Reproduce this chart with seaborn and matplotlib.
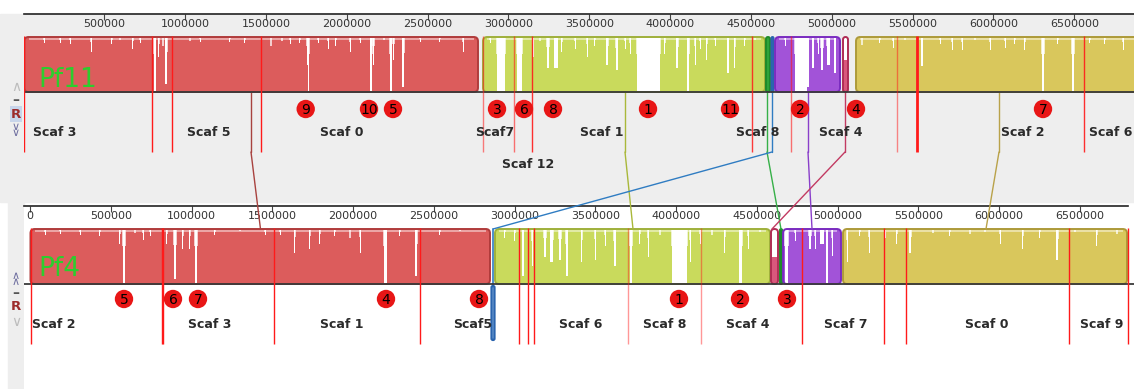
import numpy as np
import pandas as pd
import matplotlib
matplotlib.use("Agg")
import matplotlib.pyplot as plt
import matplotlib.colors as mcolors
from matplotlib.patches import FancyBboxPatch, Rectangle, ConnectionPatch
import seaborn as sns

sns.set_theme(style="white")
plt.rcParams['font.family'] = ['DejaVu Sans']

# ---------------- data (bp / kb) ----------------
pf11_ticks = [500000, 1000000, 1500000, 2000000, 2500000, 3000000, 3500000,
              4000000, 4500000, 5000000, 5500000, 6000000, 6500000]
pf4_ticks = [0] + pf11_ticks

# LCB order: red, lime, green, blue, purple, crimson, olive
lcb_fill = ['#dc5c5c', '#c9da5c', '#2fa43a', '#3c7cc8', '#a253d8', '#d9587c', '#d9c75c']
lcb_edge = ['#b03c3c', '#9fb03c', '#1f8a2a', '#2a64ae', '#7a2cc0', '#b02c55', '#ad9a3a']
link_color = ['#a8423f', '#a9b83a', '#36b048', '#2f7cc2', '#8a3fca', '#c23a62', '#b9a24a']

pf11_lcb_start = [5000, 2842500, 4593000, 4627000, 4648800, 5069400, 5149800]
pf11_lcb_end = [2811500, 4586900, 4617700, 4639500, 5050900, 5100300, 6950000]
pf4_lcb_start = [3000, 2878600, 4642900, 2857000, 4661400, 4587200, 5032900]
pf4_lcb_end = [2847600, 4580970, 4655300, 2875500, 5020500, 4630500, 6790970]
pf4_lcb_reverse = [False, False, False, True, False, False, False]

pf11_link = [1407300, 3720900, 4599300, 4630200, 4852900, 5081800, 6034400]
pf4_link = [1426900, 3732900, 4649100, 2866200, 4841000, 4593300, 5918100]

# contig boundaries
pf11_contig_bounds = [3100, 794900, 918600, 1469200, 2842500, 3034200, 3145600,
                      4506500, 4747800, 5403500, 5527200, 6560300]
pf11_contig_alpha = [1, 1, 1, 1, .55, .6, .9, .85, .6, .5, 1, .9]
pf11_contig_lw = [1, 1, 1, 1, 1, 1, 1, 1, 1, 1, 2, 1]
pf4_contig_bounds = [6200, 817100, 826400, 1510500, 2414300, 3027200, 3082900,
                     3120000, 3701900, 4153800, 4779100, 5286700, 5422900,
                     6431900, 6797200]
pf4_contig_alpha = [1, 1, 1, 1, 1, 1, 1, 1, .45, .45, 1, 1, 1, 1, 1]

pf11_contig_names = ['Scaf 3', 'Scaf 5', 'Scaf 0', 'Scaf7', 'Scaf 1', 'Scaf 8',
                     'Scaf 4', 'Scaf 2', 'Scaf 6', 'Scaf 12']
pf11_name_pos = [194900, 1147500, 1970200, 2916700, 3578600, 4543600, 5057100,
                 6182900, 6727300, 3120800]
pf11_name_row = [0, 0, 0, 0, 0, 0, 0, 0, 0, 1]
pf4_contig_names = ['Scaf 2', 'Scaf 3', 'Scaf 1', 'Scaf5', 'Scaf 6', 'Scaf 8',
                    'Scaf 4', 'Scaf 7', 'Scaf 0', 'Scaf 9']
pf4_name_pos = [148600, 1111200, 1928300, 2739300, 3407900, 3927900, 4444800,
                5048400, 5924300, 6633100]

# numbered markers
pf11_mark_id = [9, 10, 5, 3, 6, 8, 1, 11, 2, 4, 7]
pf11_mark_pos = [1745700, 2137300, 2285700, 2929100, 3096100, 3275500, 3863200,
                 4370400, 4803400, 5149800, 6306600]
pf4_mark_id = [5, 6, 7, 4, 8, 1, 2, 3]
pf4_mark_pos = [581900, 885200, 1040000, 2203800, 2779500, 4017600, 4395300, 4686200]

# similarity-profile gaps: centre (kb), width (kb), depth (fraction of block height)
pf11_gap_kb = [418, 677, 813, 838, 863, 882, 1030, 1531, 1599, 1754, 1763, 1884,
               2020, 2150, 2165, 2273, 2289, 2348, 2719,
               127, 226, 288, 547, 597, 721, 1092, 1277, 1370, 1649, 1710, 1822,
               1933, 2082, 2230, 2453, 2576,
               2954, 3068, 3152, 3245, 3294, 3331, 3486, 3610, 3671, 3866, 3968,
               4043, 4111, 4154, 4228, 4358, 4401,
               2886, 3195, 3412, 3535, 3721, 3752, 4185, 4278, 4463, 4525,
               4810, 4850, 4884, 4940, 4977, 5020, 4711, 4915,
               5085,
               5187, 5379, 5558, 5744, 5806, 5979, 6072, 6195, 6307, 6492, 6802,
               5298, 5453, 5670, 5886, 6133, 6399, 6597, 6690]
pf11_gap_w = [6, 6, 9, 6, 6, 9, 6, 6, 6, 6, 9, 6,
              6, 9, 6, 9, 6, 9, 6,
              6, 6, 6, 6, 6, 6, 6, 6, 6, 6, 6, 6,
              6, 6, 6, 6, 6,
              50, 31, 6, 12, 19, 6, 6, 9, 9, 142, 6,
              9, 9, 6, 6, 9, 6,
              6, 6, 6, 6, 6, 6, 6, 6, 6, 6,
              74, 12, 9, 12, 19, 9, 6, 6,
              31,
              6, 6, 9, 6, 6, 6, 6, 6, 12, 12, 6,
              6, 6, 6, 6, 6, 6, 6, 6]
pf11_gap_depth = [.25, .2, 1, .35, .5, .85, .2, .5, .2, .5, 1, .2,
                  .25, 1, .5, 1, .4, .9, .25,
                  .1, .1, .12, .12, .1, .1, .08, .08, .1, .12, .1, .1,
                  .15, .1, .12, .08, .08,
                  1, 1, .35, .55, .55, .25, .35, .5, .6, 1, .3,
                  .55, 1, .5, .4, .65, .55,
                  .1, .2, .2, .15, .2, .3, .2, .15, .15, .1,
                  1, .9, .55, .6, .5, .65, .15, .3,
                  .4,
                  .45, .18, .52, .22, .22, .22, .18, .22, 1, 1, .22,
                  .1, .1, .12, .1, .12, .12, .1, .12]

pf4_gap_kb = [557, 582, 650, 700, 848, 898, 947, 990, 1028, 1640, 1733, 1795,
              1981, 2043, 2198, 2390,
              93, 186, 310, 433, 743, 1145, 1300, 1455, 1548, 1888, 2290, 2538, 2662,
              3052, 3108, 3188, 3231, 3281, 3324, 3417, 3498, 3621, 3720, 3826,
              4021, 4086, 4302, 4401, 4445,
              2940, 3002, 3560, 3776, 3900, 4148, 4222, 4519,
              4609,
              4683, 4829, 4860, 4903, 4934, 4965, 4736,
              5058, 5194, 5367, 5448, 5590, 5819, 6005, 6147, 6358, 6605, 6729,
              5138, 5293, 5695, 5912, 6252, 6469]
pf4_gap_w = [6, 12, 6, 6, 6, 15, 6, 6, 12, 6, 6, 6,
             6, 6, 19, 9,
             6, 6, 6, 6, 6, 6, 6, 6, 6, 6, 6, 6, 6,
             9, 6, 12, 19, 12, 9, 6, 6, 9, 12, 6,
             93, 6, 6, 19, 6,
             6, 6, 6, 6, 6, 6, 6, 6,
             43,
             19, 12, 6, 19, 9, 6, 6,
             6, 6, 6, 9, 6, 6, 6, 6, 9, 6, 6,
             6, 6, 6, 6, 6, 6]
pf4_gap_depth = [.25, 1, .18, .18, .25, .9, .36, .36, 1, .42, .35, .25,
                 .48, .42, 1, .85,
                 .1, .08, .1, .12, .12, .1, .08, .1, .1, .12, .12, .1, .08,
                 .85, .66, .5, .6, .55, .85, .6, .55, .66, 1, .5,
                 1, .6, .42, 1, .36,
                 .15, .2, .3, .25, .3, .25, .3, .15,
                 .5,
                 1, .36, .36, .25, 1, .48, .2,
                 .6, .42, .25, .42, .18, .25, .25, .36, .55, .3, .25,
                 .12, .15, .12, .1, .15, .12]

# ---------------- layout ----------------
W, H = 1134, 389
BP_PER_PX = 6188
RADIUS_BP = 26000

TOP = dict(block=(37, 92), line_end=152, mark_y=109, name_y=(133, 164),
           label_x=90000, label_y=87)
BOT = dict(block=(229, 284), line_end=344, mark_y=299, name_y=(324, 355),
           label_x=50000, label_y=276, rev=(286, 340))


def fig_rect(x0, y0, x1, y1):
    return [x0 / W, 1 - y1 / H, (x1 - x0) / W, (y1 - y0) / H]


fig = plt.figure(figsize=(W / 100, H / 100), dpi=100)
fig.patches.append(Rectangle((0, 1 - 202 / H), 1, 188 / H, transform=fig.transFigure,
                             color='#eeeeee', zorder=-2))
fig.patches.append(Rectangle((8 / W, 0), 16 / W, 1 - 202 / H, transform=fig.transFigure,
                             color='#eeeeee', zorder=-2))

ax_top = fig.add_axes(fig_rect(24, 14, 1134, 202))
ax_bot = fig.add_axes(fig_rect(24, 206, 1134, 389))
ax_top.set_facecolor('#eeeeee')
ax_bot.set_facecolor('white')


def block_patch(ax, start, end, y0, y1, fc, ec, z, lw=1.4):
    w = end - start
    r = min(RADIUS_BP, w / 2)
    p = FancyBboxPatch((start, y0), w, y1 - y0,
                       boxstyle=f"round,pad=0,rounding_size={r}",
                       mutation_aspect=1 / BP_PER_PX, fc=fc, ec=ec, lw=lw, zorder=z)
    ax.add_patch(p)
    return p


def draw_track(ax, cfg, starts, ends, reverse, gap_kb, gap_w, gap_depth,
               bounds, b_alpha, b_lw, names, name_pos, name_row,
               mark_id, mark_pos, label):
    y0, y1 = cfg['block']
    for i in range(len(starts)):
        if reverse[i]:
            r0, r1 = cfg['rev']
            block_patch(ax, starts[i], ends[i], r0, r1, '#8fb6e0', lcb_edge[i], 3, 1.6)
            continue
        block_patch(ax, starts[i], ends[i], y0, y1, lcb_fill[i], 'none', 1, 0)
    # similarity profile gaps (spike + narrow shallow shoulder, thin fuzz at top)
    gx = np.array(gap_kb) * 1000
    gw = np.array(gap_w) * 1000
    gh = np.array(gap_depth) * (y1 - y0 - 1)
    ax.bar(gx, gh, width=gw, bottom=y0 + 1, color='white', lw=0, zorder=2)
    ax.bar(gx, gh * 0.3, width=gw + 9000, bottom=y0 + 1, color='white', lw=0,
           alpha=0.7, zorder=2)
    for i in range(len(starts)):
        if not reverse[i] and ends[i] - starts[i] > 4 * RADIUS_BP:
            ax.bar((starts[i] + ends[i]) / 2, 2.2, width=ends[i] - starts[i] - 2 * RADIUS_BP,
                   bottom=y0 + 0.8, color='white', alpha=0.45, lw=0, zorder=2)
    for i in range(len(starts)):
        if not reverse[i]:
            block_patch(ax, starts[i], ends[i], y0, y1, 'none', lcb_edge[i], 3, 1.4)
    ax.axhline(y1, color='#3a3a3a', lw=1.3, zorder=3)
    # contig boundaries
    cols = [mcolors.to_rgba('#ff1a1a', a) for a in b_alpha]
    ax.vlines(bounds, y0 - 1, cfg['line_end'], colors=cols, lw=b_lw, zorder=4)
    for n, x, r in zip(names, name_pos, name_row):
        ax.text(x, cfg['name_y'][r], n, ha='center', va='center', fontsize=9,
                fontweight='bold', color='#2b2b2b', zorder=5)
    # numbered markers
    df = pd.DataFrame({'pos': mark_pos, 'y': cfg['mark_y']})
    sns.scatterplot(data=df, x='pos', y='y', ax=ax, s=175, color='#e81616',
                    edgecolor='none', legend=False, zorder=5)
    for n, x in zip(mark_id, mark_pos):
        ax.text(x, cfg['mark_y'] + 0.5, str(n), ha='center', va='center',
                fontsize=10, color='black', zorder=6)
    ax.text(cfg['label_x'], cfg['label_y'], label, fontsize=19, color='#2ecc2e',
            va='baseline', ha='left', zorder=6)


draw_track(ax_top, TOP, pf11_lcb_start, pf11_lcb_end, [False] * 7,
           pf11_gap_kb, pf11_gap_w, pf11_gap_depth,
           pf11_contig_bounds, pf11_contig_alpha, pf11_contig_lw,
           pf11_contig_names, pf11_name_pos, pf11_name_row,
           pf11_mark_id, pf11_mark_pos, 'Pf11')
draw_track(ax_bot, BOT, pf4_lcb_start, pf4_lcb_end, pf4_lcb_reverse,
           pf4_gap_kb, pf4_gap_w, pf4_gap_depth,
           pf4_contig_bounds, pf4_contig_alpha, [1] * len(pf4_contig_bounds),
           pf4_contig_names, pf4_name_pos, [0] * len(pf4_contig_names),
           pf4_mark_id, pf4_mark_pos, 'Pf4')

# links between genomes
for i in range(len(pf11_link)):
    ax_top.plot([pf11_link[i], pf11_link[i]], [TOP['block'][1], TOP['line_end']],
                color=link_color[i], lw=1, zorder=1.5)
    con = ConnectionPatch(xyA=(pf11_link[i], TOP['line_end']), coordsA='data', axesA=ax_top,
                          xyB=(pf4_link[i], BOT['block'][0]), coordsB='data', axesB=ax_bot,
                          color=link_color[i], lw=1, zorder=1.5)
    fig.add_artist(con)
    if pf4_lcb_reverse[i]:
        ax_bot.plot([pf4_link[i], pf4_link[i]], [BOT['block'][0], BOT['rev'][0]],
                    color=link_color[i], lw=1.2, zorder=2.5)

# axes / rulers
for ax, ticks, xl, yl, end in [(ax_top, pf11_ticks, (3100, 6869500), (202, 14), None),
                               (ax_bot, pf4_ticks, (-37100, 6834300), (389, 206), 6797200)]:
    ax.set_xlim(*xl)
    ax.set_ylim(*yl)
    ax.set_xlabel('')
    ax.set_ylabel('')
    ax.set_yticks([])
    ax.set_xticks(ticks)
    ax.set_xticklabels([str(t) for t in ticks])
    ax.xaxis.set_ticks_position('top')
    ax.tick_params(axis='x', top=True, bottom=False, labeltop=True, labelbottom=False,
                   direction='in', length=4, width=0.8, color='#444444',
                   labelsize=8, labelcolor='#333333', pad=-10.5)
    for s in ['left', 'right', 'bottom']:
        ax.spines[s].set_visible(False)
    ax.spines['top'].set_color('#222222')
    ax.spines['top'].set_linewidth(1.2)
    if end is not None:
        ax.spines['top'].set_bounds(xl[0], end)

# side controls
fx = lambda x: x / W
fy = lambda y: 1 - y / H
fig.text(fx(16), fy(87), '∧', color='#bdbdbd', fontsize=10, ha='center', va='center')
fig.text(fx(16), fy(100), '–', color='#555555', fontsize=10, fontweight='bold',
         ha='center', va='center')
fig.text(fx(16), fy(114), 'R', color='#9c2b2b', fontsize=9.5, fontweight='bold',
         ha='center', va='center',
         bbox=dict(boxstyle='square,pad=0.08', fc='#c8d5ea', ec='none'))
fig.text(fx(16), fy(130), '∨\n∨', color='#6f6fa0', fontsize=8, ha='center', va='center',
         linespacing=0.45)
fig.text(fx(16), fy(279), '∧\n∧', color='#6f6fa0', fontsize=8, ha='center', va='center',
         linespacing=0.45)
fig.text(fx(16), fy(293), '–', color='#555555', fontsize=10, fontweight='bold',
         ha='center', va='center')
fig.text(fx(16), fy(307), 'R', color='#9c2b2b', fontsize=9.5, fontweight='bold',
         ha='center', va='center')
fig.text(fx(16), fy(322), '∨', color='#bdbdbd', fontsize=10, ha='center', va='center')

fig.savefig('out.png', dpi=100, facecolor='white')
